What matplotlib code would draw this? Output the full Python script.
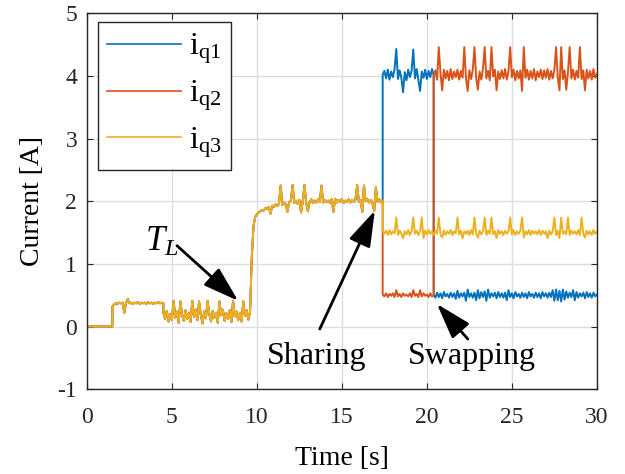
import matplotlib
matplotlib.use('Agg')
import matplotlib.pyplot as plt
import numpy as np

plt.rcParams['font.family'] = 'serif'
plt.rcParams['font.serif'] = ['Liberation Serif', 'DejaVu Serif']
plt.rcParams['mathtext.fontset'] = 'custom'
plt.rcParams['mathtext.rm'] = 'Liberation Serif'
plt.rcParams['mathtext.it'] = 'Liberation Serif:italic'
plt.rcParams['axes.unicode_minus'] = False

# values read off the picture, in hundredths of an ampere, sampled every 0.1 s
# common part (all three currents identical up to 17.4 s)
seg_zero = [0, 0]                                   # 0 .. 1.5 s
seg_plateau = [32, 35, 37, 36, 38, 37, 38, 22, 37, 44,
               37, 38, 36, 38, 37, 39, 36, 38, 37, 38,
               36, 39, 37, 38, 36, 38, 37, 39, 37, 38, 37]   # 1.5 .. 4.5 s
seg_low = [22, 12, 25, 8, 20, 10, 41, 14, 24, 6,
           40, 18, 9, 26, 12, 22, 7, 41, 15, 27,
           10, 40, 19, 5, 24, 13, 41, 20, 8, 25,
           14, 22, 6, 40, 18, 27, 9, 21, 12, 26,
           7, 41, 16, 24, 10, 22, 8, 40, 17, 26,
           11, 23]                                  # 4.5 .. 9.6 s
seg_rise = [25, 110, 160, 175, 179, 182, 184, 186, 185, 189,
            188, 191, 180, 193, 191, 195, 192, 196, 225, 194,
            198, 195, 183, 199, 200, 226, 197, 201, 196, 202,
            182, 200, 226, 197, 184, 199, 203, 197, 201, 198,
            203, 199, 225, 198, 202, 199, 201, 197, 203, 183,
            204, 198, 202, 199, 203, 197, 201, 199, 203, 198,
            202, 199, 203, 226, 199, 202, 183, 225, 200, 203,
            198, 202, 197, 184, 222, 199, 203, 198, 201]   # 9.6 .. 17.4 s

# after sharing (17.4 s) and swapping (20.4 s)
iq1_high = [402, 408, 396, 410, 394, 407, 398, 411, 443, 395,
            409, 397, 374, 406, 393, 410, 398, 408, 442, 396,
            411, 394, 376, 407, 397, 410, 395, 408, 398, 411, 401]   # 17.4 .. 20.4 s
iq1_low = [50, 46, 54, 47, 53, 45, 55, 48, 52, 46,
           54, 47, 53, 44, 57, 46, 53, 48, 54, 41,
           59, 47, 53, 46, 54, 42, 58, 45, 55, 47,
           56, 41, 59, 46, 53, 48, 54, 45, 55, 47,
           53, 46, 54, 42, 58, 47, 53, 45, 55, 48,
           52, 46, 54, 47, 53, 45, 55, 48, 52, 46,
           54, 47, 53, 45, 55, 48, 53, 46, 54, 47,
           58, 41, 59, 42, 57, 40, 59, 43, 56, 46,
           54, 47, 58, 42, 55, 46, 53, 48, 54, 45,
           55, 47, 53, 46, 54, 48, 51]             # 20.4 .. 30 s
iq2_low = [51, 48, 53, 47, 52, 49, 53, 47, 58, 48,
           52, 47, 53, 49, 51, 48, 53, 47, 58, 49,
           52, 47, 58, 48, 53, 49, 51, 47, 53, 48, 50]   # 17.4 .. 20.4 s
iq2_high = [400, 409, 394, 446, 405, 377, 410, 396, 408, 393,
            411, 395, 407, 398, 410, 394, 408, 397, 446, 396,
            376, 409, 395, 410, 446, 397, 378, 407, 394, 411,
            446, 396, 408, 393, 446, 399, 410, 377, 407, 395,
            409, 396, 411, 394, 407, 446, 398, 410, 393, 408,
            396, 409, 376, 446, 397, 410, 394, 408, 396, 411,
            393, 407, 398, 410, 395, 409, 397, 411, 394, 408,
            396, 410, 446, 397, 377, 446, 395, 409, 378, 407,
            446, 396, 410, 394, 408, 397, 446, 395, 409, 377,
            410, 396, 408, 394, 411, 397, 403]     # 20.4 .. 30 s
iq3_tail = [152, 148, 153, 146, 154, 147, 152, 149, 174, 146,
            153, 148, 141, 152, 147, 154, 146, 152, 174, 148,
            153, 146, 152, 174, 141, 153, 147, 154, 148, 152,
            146, 153, 148, 174, 147, 142, 153, 146, 152, 148,
            154, 146, 152, 149, 174, 147, 153, 141, 152, 148,
            153, 146, 154, 147, 174, 148, 142, 153, 147, 152,
            174, 146, 153, 148, 174, 147, 152, 141, 154, 148,
            152, 146, 153, 148, 152, 174, 147, 154, 146, 152,
            148, 153, 174, 142, 152, 147, 154, 146, 153, 148,
            152, 147, 154, 146, 153, 148, 152, 141, 153, 147,
            152, 174, 146, 153, 141, 174, 148, 152, 147, 174,
            146, 153, 148, 152, 147, 154, 146, 174, 148, 142,
            153, 147, 152, 146, 154, 148, 151]     # 17.4 .. 30 s

t_share = 17.4
t_swap = 20.4
labels = [r'$\mathregular{i_{q1}}$', r'$\mathregular{i_{q2}}$', r'$\mathregular{i_{q3}}$']
colors = ['#0072BD', '#D95319', '#EDB120']


def build(segments):
    # segments: list of (t_start, t_end, values), values in hundredths of A
    ts, vs = [], []
    for t0, t1, vals in segments:
        ts.append(np.linspace(t0, t1, len(vals)))
        vs.append(np.array(vals) / 100.0)
    return np.concatenate(ts), np.concatenate(vs)


common = [(0, 1.5, seg_zero), (1.5, 4.5, seg_plateau),
          (4.5, 9.6, seg_low), (9.6, t_share, seg_rise)]
series = [
    build(common + [(t_share, t_swap, iq1_high), (t_swap, 30, iq1_low)]),
    build(common + [(t_share, t_swap, iq2_low), (t_swap, 30, iq2_high)]),
    build(common + [(t_share, 30, iq3_tail)]),
]

fig = plt.figure(figsize=(6.25, 4.74), dpi=100)
ax = fig.add_axes([0.139, 0.179, 0.816, 0.793])

for (t, v), c, lab in zip(series, colors, labels):
    ax.plot(t, v, color=c, lw=1.4, label=lab)

ax.set_xlim(0, 30)
ax.set_ylim(-1, 5)
ax.set_xticks(np.arange(0, 31, 5))
ax.set_yticks(np.arange(-1, 6, 1))
ax.grid(True, color='#dedede', lw=1.0)
ax.set_axisbelow(True)
ax.tick_params(direction='in', length=4, width=0.8, top=True, right=True,
               labelsize=17, colors='#262626')
ax.tick_params(axis='x', pad=13)
ax.tick_params(axis='y', pad=7)
for sp in ax.spines.values():
    sp.set_color('#262626')
    sp.set_linewidth(1.0)

ax.set_xlabel('Time [s]', fontsize=20, labelpad=13)
ax.set_ylabel('Current [A]', fontsize=20, labelpad=9)

leg = ax.legend(loc='upper left', bbox_to_anchor=(0.0216, 0.976), borderaxespad=0,
                fontsize=23, handlelength=2.3, handletextpad=0.25, borderpad=0.3,
                labelspacing=0.38, fancybox=False, framealpha=1, edgecolor='#262626')
leg.get_frame().set_linewidth(1.0)
for line in leg.get_lines():
    line.set_linewidth(1.2)

arrow = dict(arrowstyle='-|>,head_length=1.1,head_width=0.35', color='black',
             lw=2, mutation_scale=20, shrinkA=0, shrinkB=0)
ax.text(3.4, 1.21, r'$T_L$', fontsize=25, ha='left', va='baseline')
ax.annotate('', xy=(8.9, 0.41), xytext=(5.3, 1.29), arrowprops=arrow)
ax.text(13.53, -0.6, 'Sharing', fontsize=23, ha='center', va='baseline')
ax.annotate('', xy=(16.94, 1.85), xytext=(13.7, -0.04), arrowprops=arrow)
ax.text(22.65, -0.6, 'Swapping', fontsize=23, ha='center', va='baseline')
ax.annotate('', xy=(20.59, 0.36), xytext=(22.41, -0.2), arrowprops=arrow)

fig.savefig('out.png', dpi=100)
